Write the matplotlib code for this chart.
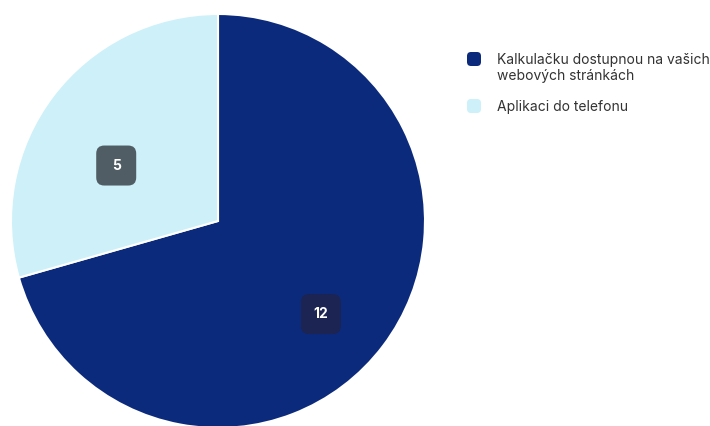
import numpy as np
import matplotlib
matplotlib.use("Agg")
import matplotlib.pyplot as plt
from matplotlib.patches import FancyBboxPatch

plt.rcParams["font.family"] = ["Inter", "DejaVu Sans"]

# data
labels = ["Kalkulačku dostupnou na vašich\nwebových stránkách", "Aplikaci do telefonu"]
values = [12, 5]
colors = ["#0c2a7c", "#cdf0f9"]
box_colors = ["#1b2452", "#515d64"]

# label placement inside each wedge (fraction of angular span, fraction of radius)
label_frac = [0.48, 0.58]
label_dist = [0.67, 0.56]

W, H = 710, 426
fig = plt.figure(figsize=(W / 100, H / 100), dpi=100)
ax = fig.add_axes([0, 0, 1, 1])

# pixel-like coords, y up
cx, cy, R = 218, H - 221, 207
wedges, _ = ax.pie(values, colors=colors, startangle=90, counterclock=False,
                   center=(cx, cy), radius=R, frame=True,
                   wedgeprops=dict(edgecolor="white", linewidth=1.5))
ax.set_xlim(0, W)
ax.set_ylim(0, H)
ax.set_aspect("equal")
ax.axis("off")

bw = 40
for w, v, bc, f, d in zip(wedges, values, box_colors, label_frac, label_dist):
    ang = np.deg2rad(w.theta1 + f * (w.theta2 - w.theta1))
    x = cx + d * R * np.cos(ang)
    y = cy + d * R * np.sin(ang)
    ax.add_patch(FancyBboxPatch((x - bw / 2, y - bw / 2), bw, bw,
                                boxstyle="round,pad=0,rounding_size=8",
                                fc=bc, ec="none", zorder=3))
    ax.text(x, y, str(v), ha="center", va="center", color="white",
            fontsize=10, fontweight="bold", zorder=4)

# legend drawn by hand with rounded squares
ly = [59, 106]
for lab, c, y in zip(labels, colors, ly):
    ax.add_patch(FancyBboxPatch((467, H - y - 7), 14, 14,
                                boxstyle="round,pad=0,rounding_size=4",
                                fc=c, ec="none"))
    ax.text(497, H - y + 6, lab, ha="left", va="top", color="#333333",
            fontsize=10, linespacing=1.2)

fig.savefig("out.png", dpi=100)
